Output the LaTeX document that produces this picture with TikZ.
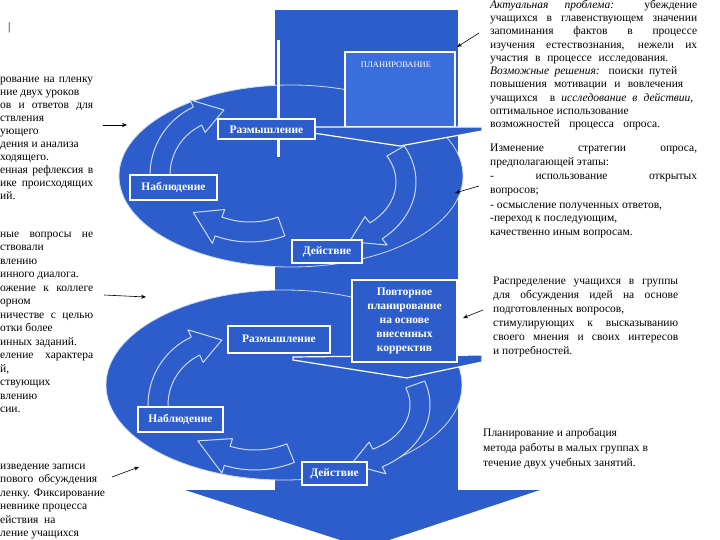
\documentclass[tikz,border=0pt]{standalone}
\usepackage{fontspec}
\setmainfont{Liberation Serif}
\usetikzlibrary{arrows.meta}
\definecolor{bl}{RGB}{44,93,202}
\definecolor{bltwo}{RGB}{58,110,220}
\definecolor{edge}{RGB}{205,220,245}
\newcommand{\cycarrow}[9]{%
 \pgfmathsetmacro\cxo{#3+#5}\pgfmathsetmacro\cyo{#4+#5}%
 \pgfmathsetmacro\cxi{#3-#5}\pgfmathsetmacro\cyi{#4-#5}%
 \pgfmathsetmacro\pAx{#1+\cxo*cos(#6)}\pgfmathsetmacro\pAy{#2+\cyo*sin(#6)}%
 \pgfmathsetmacro\pBx{#1+(#3+#8)*cos(#7)}\pgfmathsetmacro\pBy{#2+(#4+#8)*sin(#7)}%
 \pgfmathsetmacro\pCx{#1+#3*cos(#7+#9)}\pgfmathsetmacro\pCy{#2+#4*sin(#7+#9)}%
 \pgfmathsetmacro\pDx{#1+(#3-#8)*cos(#7)}\pgfmathsetmacro\pDy{#2+(#4-#8)*sin(#7)}%
 \pgfmathsetmacro\pEx{#1+\cxi*cos(#7)}\pgfmathsetmacro\pEy{#2+\cyi*sin(#7)}%
 \filldraw[cyc] (\pAx,\pAy) arc[start angle=#6, end angle=#7, x radius=\cxo, y radius=\cyo]
 -- (\pBx,\pBy) -- (\pCx,\pCy) -- (\pDx,\pDy) -- (\pEx,\pEy)
 arc[start angle=#7, end angle=#6, x radius=\cxi, y radius=\cyi] -- cycle;}
\begin{document}
\begin{tikzpicture}[x=1pt,y=-1pt,
 box/.style={draw=white, line width=2pt, fill=bl, text=white, font=\bfseries\fontsize{11.5}{14}\selectfont, inner sep=1pt, align=center},
 cyc/.style={fill=bl, draw=edge, line width=1pt, line join=round},
 ann/.style={draw=black, line width=0.6pt, -{Stealth[length=5pt,width=4pt]}},
 tx/.style={anchor=base west, inner sep=0, font=\fontsize{11.5}{13}\selectfont},
 chev/.style={fill=bl, draw=white, line width=1.2pt, line join=miter}]
\useasboundingbox (0,0) rectangle (720,540);
\clip (0,0) rectangle (720,540);
\fill[white] (0,0) rectangle (720,540);
% big arrow
\fill[bl] (275,10) rectangle (458,491);
\fill[bl] (185,490) -- (540,490) -- (365,548) -- cycle;
% upper ellipse
\filldraw[fill=bl, draw=edge, line width=0.8pt] (291,176) ellipse [x radius=172, y radius=91];
\draw[white, line width=3pt] (278,40) -- (278,157);
\node[draw=white, line width=2pt, fill=bltwo, minimum width=110pt, minimum height=75pt, inner sep=0] (plan) at (400,89.5) {};
\node[text=white, font=\fontsize{8.5}{10}\selectfont, inner sep=0] (plantxt) at (396,65) {ПЛАНИРОВАНИЕ};
\filldraw[chev] (313,127) -- (482,127) -- (482,131) -- (400,146) -- (313,133) -- cycle;
% upper cycle arrows
\cycarrow{225}{175}{65}{65}{10}{178}{245}{18}{24}
\cycarrow{328}{182}{78}{62}{10}{-30}{52}{18}{22}
\cycarrow{250}{140}{92}{92}{10}{70}{110}{18}{18}
\node[box, minimum width=97pt, minimum height=20pt] (r1) at (266.5,129.5) {Размышление};
\node[box, minimum width=87pt, minimum height=25pt] (n1) at (173.5,187.5) {Наблюдение};
\node[box, minimum width=70pt, minimum height=23pt] (d1) at (327,251.5) {Действие};
% lower ellipse
\filldraw[fill=bl, draw=edge, line width=0.8pt] (284,385) ellipse [x radius=178, y radius=95];
\filldraw[chev] (293,357) -- (482,355) -- (482,362) -- (407,378) -- (293,360) -- cycle;
\cycarrow{223}{405}{65}{65}{10}{178}{245}{18}{24}
\cycarrow{340}{405}{80}{60}{10}{-20}{62}{18}{20}
\cycarrow{255}{365}{95}{95}{10}{68}{107}{18}{20}
\node[box, minimum width=102pt, minimum height=27pt] (r2) at (279,339) {Размышление};
\node[box, minimum width=105pt, minimum height=82pt, font=\bfseries\fontsize{11.5}{14}\selectfont] (p2) at (404.5,321) {Повторное\\планирование\\на основе\\внесенных\\корректив};
\node[box, minimum width=85pt, minimum height=25pt] (n2) at (180.5,419.5) {Наблюдение};
\node[box, minimum width=65pt, minimum height=23pt] (d2) at (334.5,473.5) {Действие};
% annotation arrows
\coordinate (a1s) at (103,125); \coordinate (a1e) at (127,125);
\coordinate (a2s) at (104,295); \coordinate (a2e) at (146,297);
\coordinate (a3s) at (112,477); \coordinate (a3e) at (139,467);
\coordinate (a4s) at (479,33);  \coordinate (a4e) at (457,47);
\coordinate (a5s) at (479,186); \coordinate (a5e) at (455,193);
\coordinate (a6s) at (483,310); \coordinate (a6e) at (463,318);
\foreach \i in {1,...,6} {\draw[ann] (a\i s) -- (a\i e);}
% cursor mark
\node[tx] (cur) at (8,31) {|};
% left texts
\node[tx] (l1a) at (0,83) {\makebox[93pt][s]{рование на пленку}};
\node[tx] (l1b) at (0,96) {ние двух уроков};
\node[tx] (l1c) at (0,109) {\makebox[93pt][s]{ов и ответов для}};
\node[tx] (l1d) at (0,122) {ствления};
\node[tx] (l1e) at (0,135) {ующего};
\node[tx] (l1f) at (0,148) {дения и анализа};
\node[tx] (l1g) at (0,161) {ходящего.};
\node[tx] (l1h) at (0,174) {\makebox[93pt][s]{енная рефлексия в}};
\node[tx] (l1i) at (0,187) {\makebox[93pt][s]{ике происходящих}};
\node[tx] (l1j) at (0,200) {ий.};
\node[tx] (l2a) at (0,237) {\makebox[93pt][s]{ные вопросы не}};
\node[tx] (l2b) at (0,250.5) {ствовали};
\node[tx] (l2c) at (0,264) {влению};
\node[tx] (l2d) at (0,277.5) {инного диалога.};
\node[tx] (l2e) at (0,291) {\makebox[93pt][s]{ожение к коллеге}};
\node[tx] (l2f) at (0,304.5) {орном};
\node[tx] (l2g) at (0,318) {\makebox[93pt][s]{ничестве с целью}};
\node[tx] (l2h) at (0,331.5) {отки более};
\node[tx] (l2i) at (0,345) {инных заданий.};
\node[tx] (l2j) at (0,358.5) {\makebox[93pt][s]{еление характера}};
\node[tx] (l2k) at (0,372) {й,};
\node[tx] (l2l) at (0,385.5) {ствующих};
\node[tx] (l2m) at (0,399) {влению};
\node[tx] (l2n) at (0,412.5) {сии.};
\node[tx] (l3a) at (0,469) {изведение записи};
\node[tx] (l3b) at (0,482.5) {\makebox[97pt][s]{пового обсуждения}};
\node[tx] (l3c) at (0,496) {ленку. Фиксирование};
\node[tx] (l3d) at (0,509.5) {невнике процесса};
\node[tx] (l3e) at (0,523) {ействия \ на};
\node[tx] (l3f) at (0,536.5) {ление учащихся};
% right texts
\node[tx] (ra0) at (490,9) {\makebox[207pt][s]{\textit{Актуальная проблема:} убеждение}};
\node[tx] (ra1) at (490,21.5) {\makebox[207pt][s]{учащихся в главенствующем значении}};
\node[tx] (ra2) at (490,34.8) {\makebox[207pt][s]{запоминания фактов в процессе}};
\node[tx] (ra3) at (490,48.1) {\makebox[207pt][s]{изучения естествознания, нежели их}};
\node[tx] (ra4) at (490,61.4) {\makebox[178pt][s]{участия в процессе исследования.}};
\node[tx] (ra5) at (490,74.7) {\makebox[187pt][s]{\textit{Возможные решения:} поиски путей}};
\node[tx] (ra6) at (490,88) {\makebox[193pt][s]{повышения мотивации и вовлечения}};
\node[tx] (ra7) at (490,101.3) {\makebox[203pt][s]{учащихся \ в \textit{исследование в действии,}}};
\node[tx] (ra8) at (490,114.6) {оптимальное использование};
\node[tx] (ra9) at (490,127.9) {\makebox[170pt][s]{возможностей процесса опроса.}};
\node[tx] (rb0) at (490,152) {\makebox[207pt][s]{Изменение стратегии опроса,}};
\node[tx] (rb1) at (490,166) {предполагающей этапы:};
\node[tx] (rb2) at (490,180) {\makebox[207pt][s]{- использование открытых}};
\node[tx] (rb3) at (490,194) {вопросов;};
\node[tx] (rb4) at (490,208) {- осмысление полученных ответов,};
\node[tx] (rb5) at (490,222) {-переход к последующим,};
\node[tx] (rb6) at (490,236) {качественно иным вопросам.};
\node[tx] (rc0) at (493,284) {\makebox[185pt][s]{Распределение учащихся в группы}};
\node[tx] (rc1) at (493,298) {\makebox[185pt][s]{для обсуждения идей на основе}};
\node[tx] (rc2) at (493,312) {подготовленных вопросов,};
\node[tx] (rc3) at (493,326) {\makebox[185pt][s]{стимулирующих к высказыванию}};
\node[tx] (rc4) at (493,340) {\makebox[185pt][s]{своего мнения и своих интересов}};
\node[tx] (rc5) at (493,354) {и потребностей.};
\node[tx] (rd0) at (483,436) {Планирование и апробация};
\node[tx] (rd1) at (483,451) {метода работы в малых группах в};
\node[tx] (rd2) at (483,466) {течение двух учебных занятий.};
\end{tikzpicture}
\end{document}
